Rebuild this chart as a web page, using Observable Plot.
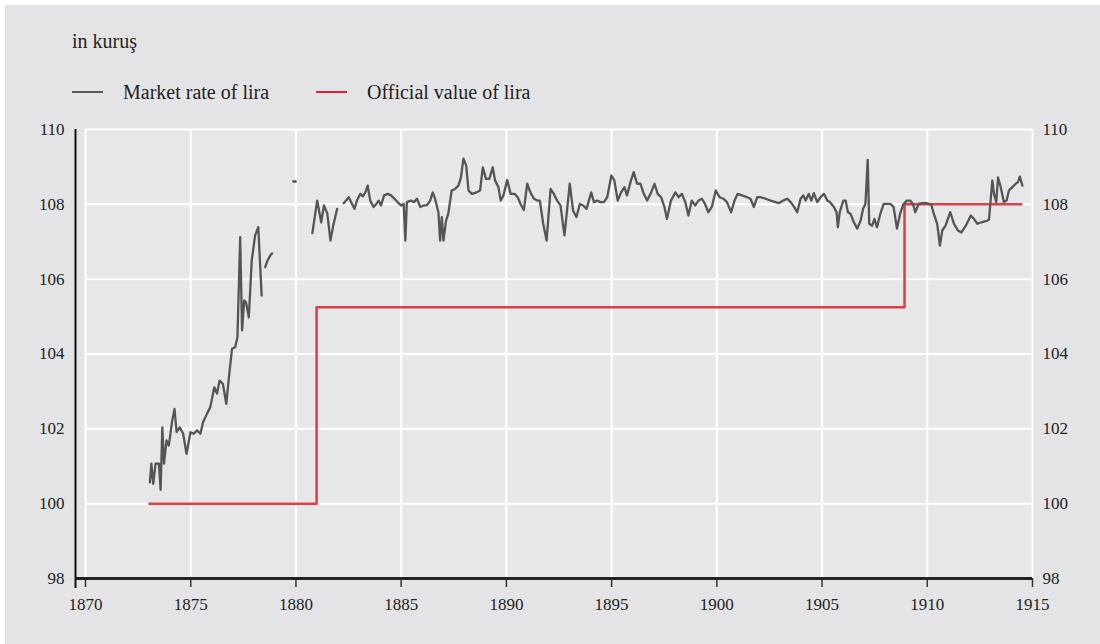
<!DOCTYPE html>
<html>
<head>
<meta charset="utf-8">
<script src="https://cdn.jsdelivr.net/npm/d3@7"></script>
<script src="https://cdn.jsdelivr.net/npm/@observablehq/plot@0.6"></script>
<style>
  html, body { margin: 0; padding: 0; background: #ffffff; }
  #wrap { position: relative; width: 1100px; height: 644px; overflow: hidden; }
  #panel { position: absolute; left: 5px; top: 5px; width: 1095px; height: 639px; background: #e4e4e6; }
  #chart { position: absolute; left: 0; top: 0; }
  #chart svg text { font-family: "Liberation Serif", "DejaVu Serif", serif !important; font-size: 17px !important; fill: #222; }
  .txt { position: absolute; font-family: "Liberation Serif", "DejaVu Serif", serif; font-size: 20px; color: #222; white-space: nowrap; line-height: 22px; }
  .sw { position: absolute; height: 2px; width: 31px; }
</style>
</head>
<body>
<div id="wrap">
  <div id="panel"></div>
  <div id="chart"></div>
  <div class="txt" style="left:72px; top:30px;">in kuruş</div>
  <div class="sw" style="left:72px; top:91px; background:#5a5a5a;"></div>
  <div class="txt" style="left:123px; top:81px;">Market rate of lira</div>
  <div class="sw" style="left:316px; top:91px; background:#d9262e;"></div>
  <div class="txt" style="left:367px; top:81px;">Official value of lira</div>
</div>
<script>
// Market rate of lira (kuruş); null marks a gap in the series
const marketYear = [
  1873.06,1873.13,1873.22,1873.33,1873.49,1873.57,1873.65,1873.73,1873.85,1873.96,
  1874.12,1874.23,1874.33,1874.48,1874.64,1874.80,1874.99,1875.14,1875.30,1875.46,
  1875.59,1875.77,1875.93,1876.12,1876.25,1876.37,1876.53,1876.69,1876.80,1876.96,
  1877.11,1877.22,1877.35,1877.44,1877.54,1877.63,1877.76,1877.90,1878.06,1878.21,1878.37,
  1878.45,
  1878.54,1878.65,1878.78,1878.87,
  1879.4,
  1879.87,1879.99,
  1880.4,
  1880.78,1881.01,1881.20,1881.33,1881.49,1881.64,1881.77,1881.96,
  1882.1,
  1882.27,1882.51,1882.62,1882.78,1882.90,1883.06,1883.18,1883.30,1883.41,1883.53,
  1883.69,1883.82,1883.93,1884.04,1884.19,1884.36,1884.52,1884.68,1884.83,1884.99,
  1885.12,1885.20,1885.27,1885.46,1885.62,1885.75,1885.91,1886.06,1886.22,1886.38,
  1886.50,1886.61,1886.77,1886.85,1886.93,1887.01,1887.13,1887.24,1887.40,1887.56,
  1887.72,1887.84,1887.96,1888.09,1888.20,1888.36,1888.59,1888.75,1888.88,1889.03,
  1889.19,1889.35,1889.46,1889.62,1889.73,1889.86,
  1890.04,1890.20,1890.39,1890.54,1890.67,1890.83,1890.99,1891.14,1891.31,1891.47,
  1891.59,1891.75,1891.91,1892.10,1892.25,1892.41,1892.57,1892.76,1892.85,1893.01,
  1893.17,1893.33,1893.49,1893.65,1893.81,1893.92,1894.03,1894.16,1894.32,1894.47,
  1894.63,1894.79,1894.99,1895.13,1895.29,1895.45,1895.61,1895.73,1895.92,1896.05,
  1896.21,1896.37,1896.53,1896.69,1896.85,1897.04,1897.19,1897.35,1897.51,1897.63,
  1897.82,1898.03,1898.18,1898.34,1898.50,1898.65,1898.81,1898.97,1899.13,1899.29,
  1899.44,1899.60,1899.76,1899.95,
  1900.13,1900.32,1900.48,1900.68,1900.84,1900.99,1901.20,1901.44,1901.60,1901.76,
  1901.92,1902.08,1902.31,1902.56,1902.79,1902.95,1903.15,1903.35,1903.51,1903.67,
  1903.82,1903.98,1904.11,1904.22,1904.37,1904.49,1904.61,1904.77,1904.93,1905.09,
  1905.25,1905.37,1905.56,1905.69,1905.75,1905.84,1906.01,1906.12,1906.23,1906.35,
  1906.51,1906.67,1906.83,1906.95,1907.06,1907.17,1907.24,1907.38,1907.49,1907.61,
  1907.77,1907.93,1908.08,1908.24,1908.40,1908.56,1908.71,1908.87,1909.03,1909.19,
  1909.32,1909.43,1909.59,1909.75,1909.96,
  1910.19,1910.31,1910.47,1910.60,1910.71,1910.87,1911.09,1911.27,1911.46,1911.62,
  1911.83,1912.07,1912.22,1912.38,1912.57,1912.78,1912.93,1913.01,1913.09,1913.17,
  1913.28,1913.36,1913.49,1913.64,1913.77,1913.88,1914.04,1914.20,1914.31,1914.40,1914.52
];
const marketValue = [
  100.57,101.07,100.53,101.07,101.07,100.37,102.04,101.07,101.69,101.55,
  102.22,102.53,101.91,102.04,101.87,101.33,101.91,101.87,101.96,101.87,
  102.18,102.40,102.58,103.11,102.94,103.29,103.20,102.67,103.29,104.14,
  104.18,104.45,107.12,104.63,105.43,105.38,104.98,106.50,107.17,107.39,105.56,
  null,
  106.32,106.50,106.63,106.69,
  null,
  108.61,108.61,
  null,
  107.23,108.10,107.52,107.97,107.75,107.03,107.43,107.88,
  null,
  108.03,108.19,108.06,107.88,108.10,108.28,108.21,108.32,108.50,108.10,
  107.93,108.01,108.10,107.97,108.24,108.28,108.24,108.15,108.06,107.97,
  108.01,107.03,108.06,108.10,108.06,108.15,107.93,107.97,107.97,108.10,
  108.32,108.15,107.79,107.03,107.66,107.03,107.56,107.75,108.37,108.41,
  108.50,108.72,109.22,109.04,108.37,108.28,108.32,108.37,108.99,108.68,
  108.68,108.99,108.64,108.46,108.10,108.24,
  108.65,108.28,108.28,108.19,108.01,107.85,108.55,108.32,108.15,108.10,
  108.10,107.48,107.03,108.41,108.28,108.10,107.97,107.17,107.66,108.55,
  107.83,107.66,108.01,107.97,107.88,108.10,108.32,108.06,108.10,108.06,
  108.06,108.19,108.77,108.64,108.10,108.32,108.46,108.24,108.64,108.86,
  108.55,108.55,108.28,108.10,108.28,108.55,108.28,108.19,107.93,107.61,
  108.10,108.32,108.19,108.28,108.06,107.70,108.10,107.97,108.10,108.15,
  108.01,107.79,107.93,108.37,
  108.19,108.15,108.06,107.79,108.10,108.28,108.24,108.19,108.15,107.93,
  108.19,108.19,108.15,108.10,108.06,108.03,108.10,108.15,108.06,107.93,
  107.79,108.15,108.24,108.10,108.28,108.10,108.30,108.06,108.19,108.28,
  108.10,108.06,107.93,107.79,107.39,107.79,108.10,108.10,107.79,107.75,
  107.52,107.35,107.56,107.88,108.01,109.19,107.48,107.43,107.61,107.39,
  107.75,108.01,108.01,108.01,107.93,107.35,107.75,108.01,108.10,108.10,
  108.01,107.79,108.01,108.03,108.03,
  107.99,107.75,107.48,106.90,107.30,107.43,107.79,107.48,107.30,107.25,
  107.43,107.70,107.61,107.48,107.52,107.55,107.59,108.10,108.64,108.28,
  108.06,108.72,108.46,108.06,108.10,108.37,108.46,108.55,108.59,108.74,108.50
];
// Official value of lira (kuruş), step changes
const officialYear = [1873.04, 1880.98, 1908.92, 1914.47];
const officialValue = [100, 105.25, 108, 108];

const xTicks = [1870,1875,1880,1885,1890,1895,1900,1905,1910,1915];
const yTicks = [98,100,102,104,106,108,110];

const market = marketYear.map((x, i) => ({x, y: marketValue[i]}));
const official = officialYear.map((x, i) => ({x, y: officialValue[i]}));

const chart = Plot.plot({
  width: 1100,
  height: 644,
  marginLeft: 85,
  marginRight: 68,
  marginTop: 129,
  marginBottom: 66,
  style: { background: "transparent", fontFamily: "Liberation Serif, serif", fontSize: "17px", color: "#222" },
  x: { domain: [1870, 1915] },
  y: { domain: [98, 110] },
  marks: [
    Plot.frame({ fill: "#e7e7e9", stroke: null }),
    Plot.gridX(xTicks, { stroke: "#ffffff", strokeOpacity: 1, strokeWidth: 2 }),
    Plot.gridY(yTicks, { stroke: "#ffffff", strokeOpacity: 1, strokeWidth: 2 }),
    Plot.axisY(yTicks, { anchor: "left", tickSize: 0, tickPadding: 21, label: null, tickFormat: d => String(d) }),
    Plot.axisY(yTicks, { anchor: "right", tickSize: 0, tickPadding: 10, label: null, tickFormat: d => String(d), textAnchor: "start" }),
    Plot.axisX(xTicks, { anchor: "bottom", tickSize: 9, tickPadding: 10, label: null, tickFormat: d => String(d), stroke: "#333", strokeWidth: 1.5 }),
    Plot.ruleY([98], { stroke: "#222", strokeWidth: 3, insetLeft: -10 }),
    Plot.ruleX([1870], { dx: -10, stroke: "#111", strokeWidth: 2, insetBottom: -10 }),
    Plot.line(official, { x: "x", y: "y", curve: "step-after", stroke: "#dc2a32", strokeWidth: 2.5, strokeOpacity: 0.9 }),
    Plot.line(market, { x: "x", y: "y", stroke: "#555555", strokeWidth: 2.3, strokeLinejoin: "round" })
  ]
});
document.getElementById("chart").appendChild(chart);
</script>
</body>
</html>
